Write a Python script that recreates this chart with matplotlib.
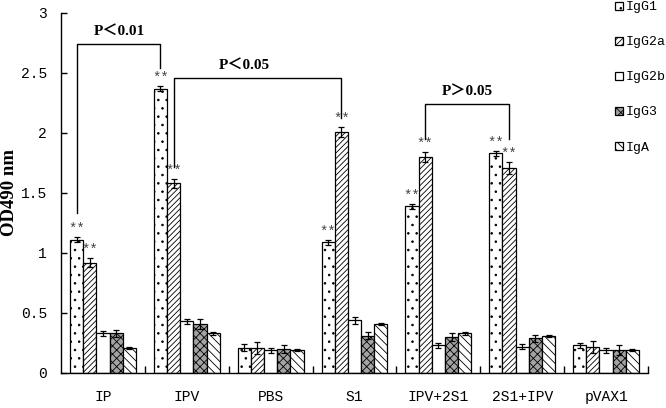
import matplotlib
matplotlib.use("Agg")
import matplotlib.pyplot as plt
import numpy as np

categories = ['IP', 'IPV', 'PBS', 'S1', 'IPV+2S1', '2S1+IPV', 'pVAX1']
series_names = ['IgG1', 'IgG2a', 'IgG2b', 'IgG3', 'IgA']
IgG1 = [1.11, 2.37, 0.21, 1.09, 1.39, 1.83, 0.23]
IgG2a = [0.92, 1.58, 0.21, 2.01, 1.80, 1.71, 0.22]
IgG2b = [0.33, 0.43, 0.19, 0.44, 0.23, 0.22, 0.19]
IgG3 = [0.33, 0.41, 0.20, 0.31, 0.30, 0.29, 0.19]
IgA = [0.21, 0.33, 0.19, 0.41, 0.33, 0.31, 0.19]
IgG1_err = [0.02, 0.02, 0.03, 0.02, 0.02, 0.02, 0.02]
IgG2a_err = [0.04, 0.04, 0.05, 0.04, 0.04, 0.05, 0.05]
IgG2b_err = [0.02, 0.02, 0.02, 0.03, 0.02, 0.02, 0.02]
IgG3_err = [0.03, 0.04, 0.03, 0.03, 0.03, 0.03, 0.04]
IgA_err = [0.01, 0.01, 0.01, 0.01, 0.01, 0.01, 0.01]
yticks = [0, 0.5, 1, 1.5, 2, 2.5, 3]
ytick_labels = ['0', '0.5', '1', '1.5', '2', '2.5', '3']
# significance groups marked with ** (IgG1 and IgG2a)
star_groups = [0, 1, 3, 4, 5]

values = [IgG1, IgG2a, IgG2b, IgG3, IgA]
errors = [IgG1_err, IgG2a_err, IgG2b_err, IgG3_err, IgA_err]
faces = ['white', 'white', 'white', '#a3a3a3', 'white']
hatches = ['..', '//////', '', 'xxxx', '\\\\\\\\']

plt.rcParams['hatch.linewidth'] = 0.6
mono = 'Liberation Mono'

fig = plt.figure(figsize=(6.66, 4.08), dpi=100)
ax = fig.add_axes([61/666, 1-373/408, (648-61)/666, (373-13)/408])

x = np.arange(len(categories))
w = 0.157
handles = []
for j, (vals, errs) in enumerate(zip(values, errors)):
    pos = x + (j - 2) * w
    b = ax.bar(pos, vals, width=w, color=faces[j], edgecolor='black',
               linewidth=0.9, hatch=hatches[j], label=series_names[j], zorder=2)
    ax.errorbar(pos, vals, yerr=errs, fmt='none', ecolor='black',
                elinewidth=0.9, capsize=2.5, capthick=0.9, zorder=3)
    handles.append(b)
    if j < 2:
        for g in star_groups:
            ax.text(pos[g], vals[g] + errs[g] + 0.01, '**', ha='center',
                    va='bottom', fontsize=10, color='#444444', family=mono)

ax.set_xlim(-0.5, 6.5)
ax.set_ylim(0, 3)
ax.set_yticks(yticks)
ax.set_yticklabels(ytick_labels, family=mono, fontsize=10.5)
ax.set_xticks(x)
ax.set_xticklabels(categories, family=mono, fontsize=10.5)
ax.set_xticks(np.arange(0.5, 7, 1), minor=True)
ax.tick_params(axis='x', which='major', length=0, pad=12)
ax.tick_params(axis='x', which='minor', direction='in', length=5, width=1)
ax.tick_params(axis='y', direction='in', length=4, width=1, pad=10)
for s in ['top', 'right']:
    ax.spines[s].set_visible(False)
for s in ['left', 'bottom']:
    ax.spines[s].set_linewidth(1)

ax.set_ylabel('OD490 nm', family='Liberation Serif', fontweight='bold',
              fontsize=13.5)
ax.yaxis.set_label_coords(-0.073, 0.5)

# significance brackets
def bracket(x1, x2, ytop, yb1, yb2):
    ax.plot([x1, x1, x2, x2], [yb1, ytop, ytop, yb2], color='black', lw=1,
            zorder=4, clip_on=False)

o1 = -2 * w
o2 = -1 * w
bracket(0 + o1, 1 + o1, 2.74, 1.33, 2.54)
bracket(1 + o2, 3 + o2, 2.46, 1.72, 2.125)
bracket(4 + o2, 5 + o2, 2.24, 1.95, 1.95)
pfam = ['Liberation Serif', 'Noto Sans CJK SC']
ax.text(0.20, 2.79, 'P＜0.01', ha='center', va='bottom', fontsize=11,
        fontweight='bold', family=pfam)
ax.text(1.69, 2.51, 'P＜0.05', ha='center', va='bottom', fontsize=11,
        fontweight='bold', family=pfam)
ax.text(4.34, 2.29, 'P＞0.05', ha='center', va='bottom', fontsize=11,
        fontweight='bold', family=pfam)

fig.legend(handles=handles, loc='upper left', bbox_to_anchor=(610/666, 1.01),
           frameon=False, prop={'family': mono, 'size': 9.5},
           handlelength=0.55, handleheight=0.55, handletextpad=0.2,
           labelspacing=1.75, borderaxespad=0)

fig.savefig('out.png', dpi=100)
